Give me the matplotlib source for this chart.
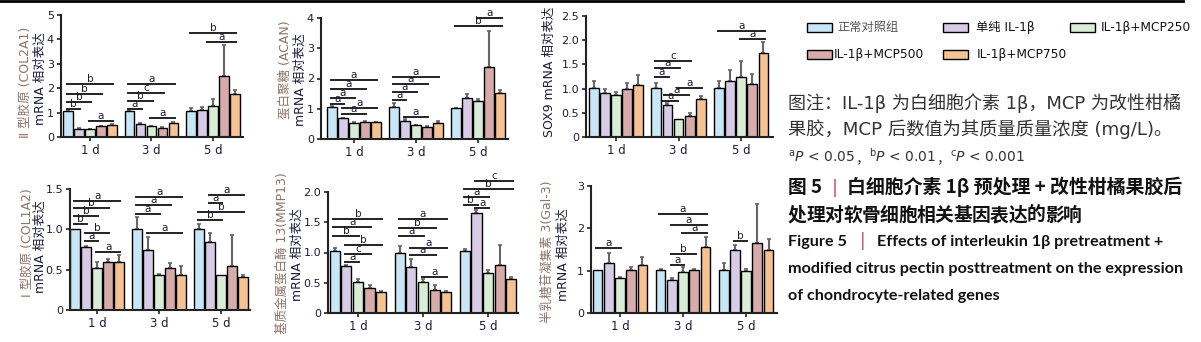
import matplotlib
matplotlib.use('Agg')
import matplotlib.pyplot as plt
from matplotlib.patches import Rectangle
from matplotlib.lines import Line2D

plt.rcParams['font.family'] = ['DejaVu Sans', 'Noto Sans CJK SC']

# groups and treatments
days = ['1 d', '3 d', '5 d']
groups = ['正常对照组', '单纯 IL-1β', 'IL-1β+MCP250', 'IL-1β+MCP500', 'IL-1β+MCP750']
colors = ['#c8e6f6', '#d8cbe5', '#d9ecd6', '#d6abaa', '#f5c291']

# relative expression (mean) and upper error, one row per day
col2a1_mean = [[1.05, 0.34, 0.31, 0.46, 0.50], [1.05, 0.55, 0.45, 0.38, 0.58], [1.05, 1.12, 1.28, 2.52, 1.77]]
col2a1_err = [[0.05, 0.01, 0.03, 0.01, 0.02], [0.05, 0.03, 0.01, 0.03, 0.04], [0.15, 0.10, 0.28, 1.25, 0.16]]
acan_mean = [[1.06, 0.69, 0.54, 0.57, 0.56], [1.07, 0.61, 0.46, 0.40, 0.53], [1.02, 1.36, 1.24, 2.38, 1.52]]
acan_err = [[0.04, 0.02, 0.03, 0.02, 0.01], [0.11, 0.06, 0.01, 0.02, 0.05], [0.02, 0.13, 0.08, 1.18, 0.10]]
sox9_mean = [[1.01, 0.91, 0.87, 0.99, 1.08], [1.01, 0.66, 0.37, 0.43, 0.79], [1.01, 1.15, 1.24, 1.09, 1.74]]
sox9_err = [[0.15, 0.08, 0.07, 0.12, 0.20], [0.10, 0.05, 0.00, 0.06, 0.06], [0.15, 0.24, 0.32, 0.21, 0.22]]
col1a2_mean = [[1.00, 0.785, 0.52, 0.59, 0.60], [1.00, 0.74, 0.44, 0.52, 0.43], [1.00, 0.84, 0.44, 0.54, 0.41]]
col1a2_err = [[0.0, 0.01, 0.07, 0.04, 0.08], [0.15, 0.17, 0.01, 0.06, 0.11], [0.07, 0.11, 0.0, 0.39, 0.02]]
mmp13_mean = [[1.02, 0.77, 0.51, 0.42, 0.35], [1.00, 0.76, 0.52, 0.38, 0.35], [1.02, 1.66, 0.66, 0.79, 0.57]]
mmp13_err = [[0.06, 0.03, 0.05, 0.04, 0.01], [0.10, 0.13, 0.04, 0.09, 0.01], [0.03, 0.05, 0.05, 0.34, 0.02]]
gal3_mean = [[1.02, 1.17, 0.83, 1.02, 1.14], [1.02, 0.77, 0.98, 1.02, 1.57], [1.02, 1.49, 0.99, 1.66, 1.50]]
gal3_err = [[0.0, 0.24, 0.03, 0.06, 0.19], [0.02, 0.05, 0.10, 0.02, 0.22], [0.15, 0.11, 0.05, 0.91, 0.25]]

# significance brackets: (day, from bar, to bar, height, letter)
col2a1_sig = [(0, 0, 4, 2.17, 'b'), (0, 0, 3, 1.77, 'b'), (0, 0, 2, 1.43, 'b'), (0, 0, 1, 1.16, 'b'), (0, 2, 4, 0.65, 'a'),
              (1, 0, 4, 2.18, 'a'), (1, 0, 3, 1.81, 'c'), (1, 0, 2, 1.47, 'b'), (1, 0, 1, 1.16, 'a'), (1, 2, 4, 0.78, 'a'),
              (2, 0, 4, 4.26, 'b'), (2, 1.6, 4, 3.9, 'a')]
acan_sig = [(0, 0, 4, 1.94, 'a'), (0, 0, 3, 1.66, 'a'), (0, 0, 2, 1.37, 'a'), (0, 0, 1, 1.15, 'a'), (0, 1, 4, 1.04, 'a'),
            (0, 1, 3, 0.83, 'a'), (1, 0, 4, 2.06, 'a'), (1, 0, 3, 1.81, 'a'), (1, 0, 2, 1.56, 'a'), (1, 0, 1, 1.30, 'a'),
            (1, 1, 3, 0.73, 'a'), (2, 0, 4, 3.72, 'b'), (2, 2, 4, 4.0, 'a')]
sox9_sig = [(1, 0, 3, 1.57, 'c'), (1, 0, 2, 1.42, 'a'), (1, 0, 1, 1.23, 'a'), (1, 2, 4, 1.02, 'a'), (1, 0.8, 2.8, 0.86, 'a'),
            (1, 0.7, 1.8, 0.74, 'a'), (2, 0, 4, 2.19, 'a'), (2, 2, 4, 2.02, 'a')]
col1a2_sig = [(0, 0, 4, 1.35, 'a'), (0, 0, 3, 1.26, 'b'), (0, 0, 2, 1.17, 'b'), (0, 0, 1, 1.07, 'b'), (0, 1, 3, 0.95, 'b'),
              (0, 1, 2, 0.86, 'a'), (0, 2, 4, 0.72, 'a'), (1, 0, 4, 1.40, 'a'), (1, 0, 3, 1.30, 'a'), (1, 0, 2, 1.19, 'a'),
              (1, 1, 4, 0.95, 'a'), (2, 1, 4, 1.43, 'a'), (2, 1, 2, 1.33, 'a'), (2, 0, 4, 1.22, 'b'), (2, 0, 2, 1.12, 'b')]
mmp13_sig = [(0, 0, 4, 1.56, 'b'), (0, 0, 3, 1.42, 'a'), (0, 0, 2, 1.28, 'b'), (0, 1, 4, 1.13, 'b'), (0, 1, 3, 0.97, 'c'),
             (0, 1, 2, 0.84, 'a'), (1, 0, 4, 1.55, 'a'), (1, 0, 3, 1.41, 'b'), (1, 0, 2, 1.27, 'a'), (1, 1, 4, 1.08, 'a'),
             (1, 1, 3, 0.96, 'a'), (1, 2, 4, 0.60, 'a'), (2, 1, 4, 2.19, 'c'), (2, 0, 4, 2.05, 'b'), (2, 0, 2, 1.92, 'a'),
             (2, 0, 1, 1.78, 'b'), (2, 1, 2, 1.74, 'a')]
gal3_sig = [(0, 0, 2, 1.53, 'a'), (1, 0, 4, 2.35, 'a'), (1, 1, 4, 2.09, 'a'), (1, 2, 4, 1.88, 'a'), (1, 1, 3, 1.39, 'b'),
            (1, 1, 2, 1.14, 'a'), (2, 1, 2, 1.71, 'b')]

W, H = 1201, 342
NAVY = '#1c1c3c'
BROWN = '#8a7468'


def rect(x0, y0, x1, y1):
    return [x0 / W, 1 - y1 / H, (x1 - x0) / W, (y1 - y0) / H]


def ftext(x, y, s, **kw):
    return fig.text(x / W, 1 - y / H, s, **kw)


def fit(t, width):
    # scale the font so the text spans `width` pixels
    bb = t.get_window_extent(renderer)
    t.set_fontsize(t.get_fontsize() * width / bb.width)
    return t.get_fontsize()


def chain(x, y, pieces, **kw):
    # draw pieces one after another on the same baseline
    for s in pieces:
        t = ftext(x, y, s, **kw)
        x += t.get_window_extent(renderer).width


fig = plt.figure(figsize=(W / 100, H / 100), dpi=100)
renderer = fig.canvas.get_renderer()

panels = [
    (col2a1_mean, col2a1_err, col2a1_sig, rect(61, 15, 243, 137), (-0.47, 2.49), 5, [0, 1, 2, 3, 4, 5], '%d'),
    (acan_mean, acan_err, acan_sig, rect(321, 18, 508, 139), (-0.53, 2.48), 4, [0, 1, 2, 3, 4], '%d'),
    (sox9_mean, sox9_err, sox9_sig, rect(586, 16, 773, 137), (-0.48, 2.51), 2.5, [0, 0.5, 1, 1.5, 2, 2.5], 'f1'),
    (col1a2_mean, col1a2_err, col1a2_sig, rect(70, 189, 250, 310), (-0.44, 2.47), 1.5, [0, 0.5, 1, 1.5], 'f1'),
    (mmp13_mean, mmp13_err, mmp13_sig, rect(328, 192, 518, 313), (-0.46, 2.46), 2.0, [0, 0.5, 1, 1.5, 2], 'f1'),
    (gal3_mean, gal3_err, gal3_sig, rect(591, 186, 777, 313), (-0.46, 2.49), 3, [0, 1, 2, 3], '%d'),
]

step, bw = 0.178, 0.155
for mean, err, sig, pos, xl, top, yt, fmt in panels:
    ax = fig.add_axes(pos)
    for g in range(3):
        for i in range(5):
            x = g + (i - 2) * step
            ax.bar(x, mean[g][i], bw, color=colors[i], edgecolor='black', linewidth=1.0, zorder=2)
            if err[g][i] > 0:
                ax.errorbar(x, mean[g][i], yerr=[[0], [err[g][i]]], color='#666666', lw=1.5,
                            capsize=1.5, capthick=1.2, zorder=1)
    for g, i, j, y, letter in sig:
        x0 = g + (i - 2) * step - 0.02
        x1 = g + (j - 2) * step + 0.02
        ax.plot([x0, x1], [y, y], color='#222222', lw=1.4, zorder=3, clip_on=False)
        ax.text((x0 + x1) / 2, y, letter, ha='center', va='bottom', fontsize=7.5, color=NAVY, zorder=4)
    ax.set_xlim(*xl)
    ax.set_ylim(0, top)
    ax.set_yticks(yt)
    if fmt == 'f1':
        ax.set_yticklabels(['0'] + ['%.1f' % v for v in yt[1:]])
    ax.set_xticks([0, 1, 2])
    ax.set_xticklabels(days)
    ax.tick_params(axis='y', labelsize=8, colors='#222222', labelcolor=NAVY, length=3, width=1.2, pad=2)
    ax.tick_params(axis='x', labelsize=8.5, colors='#222222', labelcolor=NAVY, length=3, width=1.2, pad=2)
    for s in ['top', 'right']:
        ax.spines[s].set_visible(False)
    for s in ['left', 'bottom']:
        ax.spines[s].set_linewidth(1.5)
        ax.spines[s].set_color('#222222')
    ax.patch.set_alpha(0)

# y labels
ylab = dict(rotation=90, ha='center', va='center', fontsize=9)
ftext(25, 82, 'Ⅱ 型胶原 (COL2A1)', color=BROWN, **ylab)
ftext(40, 79, 'mRNA 相对表达', color=NAVY, **ylab)
ftext(285, 70, '蛋白聚糖 (ACAN)', color=BROWN, **ylab)
ftext(300, 80, 'mRNA 相对表达', color=NAVY, **ylab)
ftext(549, 72, 'SOX9 mRNA 相对表达', color=NAVY, **ylab)
ftext(27, 243, 'Ⅰ 型胶原 (COL1A2)', color=BROWN, **ylab)
ftext(40, 247, 'mRNA 相对表达', color=NAVY, **ylab)
ftext(282, 253, '基质金属蛋白酶 13(MMP13)', color=BROWN, **ylab)
ftext(297, 255, 'mRNA 相对表达', color=NAVY, **ylab)
ftext(547, 252, '半乳糖苷凝集素 3(Gal-3)', color=BROWN, **ylab)
ftext(563, 255, 'mRNA 相对表达', color=NAVY, **ylab)

# top rule
fig.add_artist(Line2D([0, 1183 / W], [1 - 1 / H, 1 - 1 / H], color='black', lw=2))

# legend
leg_pos = [(807, 23), (943, 23), (1070, 23), (807, 50), (943, 50)]
txt_x = [837, 976, 1101, 834, 977]
for k, (px, py) in enumerate(leg_pos):
    fig.add_artist(Rectangle((px / W, 1 - (py + 9) / H), 25 / W, 9 / H, facecolor=colors[k],
                             edgecolor='black', lw=1.0))
    ftext(txt_x[k], py + 4.5, groups[k], fontsize=8.8, va='center', ha='left',
          color='#555555' if k == 0 else '#111111')

# caption
cap = dict(fontsize=12, color='#333333', ha='left', va='baseline')
fit(ftext(788, 109, '图注：IL-1β 为白细胞介素 1β，MCP 为改性柑橘', **cap), 394)
fit(ftext(788, 135, '果胶，MCP 后数值为其质量质量浓度 (mg/L)。', **cap), 385)
cap['fontsize'] = 10
chain(788, 162, [r'$^{\mathrm{a}}P$ < 0.05', '，', r'$^{\mathrm{b}}P$ < 0.01', '，',
                 r'$^{\mathrm{c}}P$ < 0.001'], **cap)

# figure title
tcn = dict(fontsize=13.5, fontweight='bold', color='#111111', ha='left', va='baseline',
           family=['Noto Sans CJK SC'])
ftext(788, 193, '图 5', **tcn)
ftext(832, 193, '|', fontsize=13, color='#c0506a', ha='left', va='baseline')
fit(ftext(847, 193, '白细胞介素 1β 预处理 + 改性柑橘果胶后', **tcn), 336)
for k, ch in enumerate('处理对软骨细胞相关基因表达的影响'):
    ftext(788 + k * 18.35, 221, ch, **tcn)
ten = dict(fontsize=11, fontweight='bold', color='#111111', ha='left', va='baseline', family=['Lato'])
ten['fontsize'] = fit(ftext(788, 273, 'modified citrus pectin posttreatment on the expression', **ten), 394)
ftext(788, 246, 'Figure 5', **ten)
ftext(860, 246, '|', fontsize=12, color='#c0506a', ha='left', va='baseline')
ftext(877, 246, 'Effects of interleukin 1β pretreatment +', **ten)
ftext(788, 300, 'of chondrocyte-related genes', **ten)

fig.savefig('out.png', dpi=100)
